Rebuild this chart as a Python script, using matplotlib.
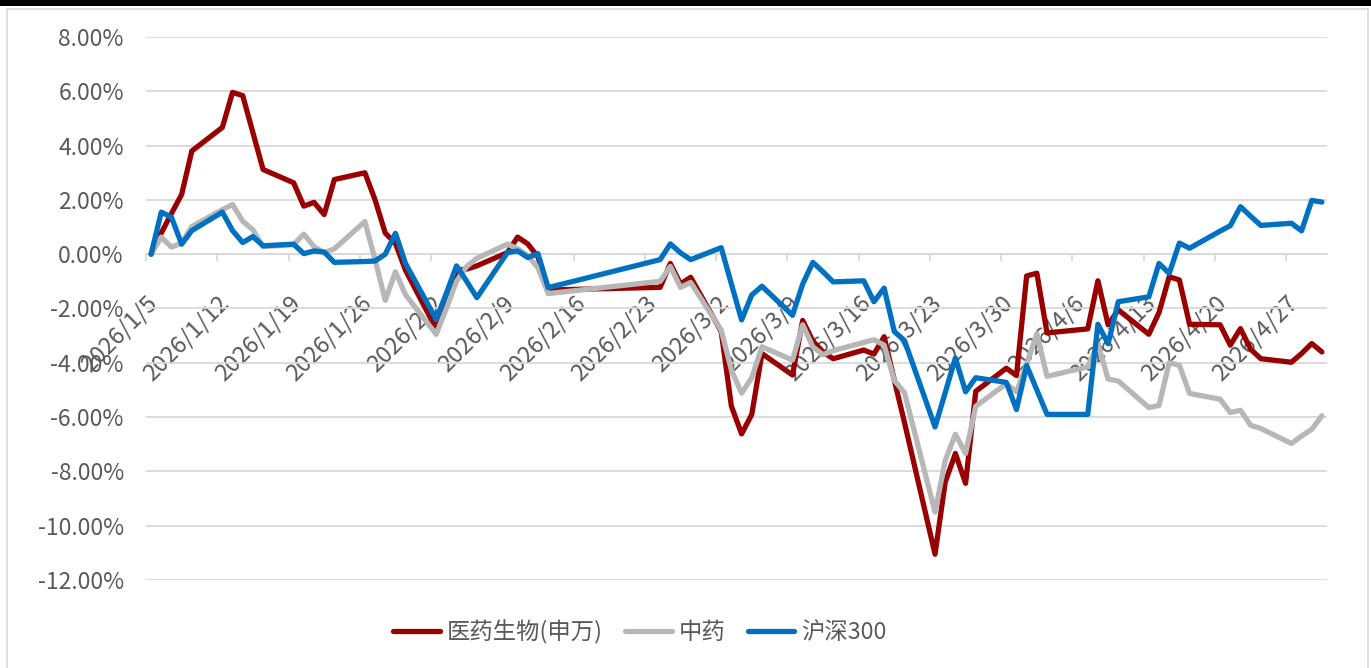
import matplotlib
matplotlib.use('Agg')
import matplotlib.pyplot as plt
import matplotlib.patches as mpatches
import pandas as pd
from matplotlib.ticker import FuncFormatter, MultipleLocator

plt.rcParams['font.family'] = ['Noto Sans CJK SC', 'DejaVu Sans']

# ---------------- data ----------------
dates = [
    '2026-01-05', '2026-01-06', '2026-01-07', '2026-01-08', '2026-01-09',
    '2026-01-12', '2026-01-13', '2026-01-14', '2026-01-15', '2026-01-16',
    '2026-01-19', '2026-01-20', '2026-01-21', '2026-01-22', '2026-01-23',
    '2026-01-26', '2026-01-27', '2026-01-28', '2026-01-29', '2026-01-30',
    '2026-02-02', '2026-02-03', '2026-02-04', '2026-02-05', '2026-02-06',
    '2026-02-09', '2026-02-10', '2026-02-11', '2026-02-12', '2026-02-13',
    '2026-02-24', '2026-02-25', '2026-02-26', '2026-02-27',
    '2026-03-02', '2026-03-03', '2026-03-04', '2026-03-05', '2026-03-06',
    '2026-03-09', '2026-03-10', '2026-03-11', '2026-03-12', '2026-03-13',
    '2026-03-16', '2026-03-17', '2026-03-18', '2026-03-19', '2026-03-20',
    '2026-03-23', '2026-03-24', '2026-03-25', '2026-03-26', '2026-03-27',
    '2026-03-30', '2026-03-31', '2026-04-01', '2026-04-02', '2026-04-03',
    '2026-04-07', '2026-04-08', '2026-04-09', '2026-04-10',
    '2026-04-13', '2026-04-14', '2026-04-15', '2026-04-16', '2026-04-17',
    '2026-04-20', '2026-04-21', '2026-04-22', '2026-04-23', '2026-04-24',
    '2026-04-27', '2026-04-28', '2026-04-29', '2026-04-30',
]

# 医药生物(申万)
yiyao = [
    0.00, 0.78, 1.50, 2.20, 3.80,
    4.67, 5.96, 5.84, 4.48, 3.12,
    2.63, 1.77, 1.91, 1.46, 2.75,
    3.00, 2.00, 0.78, 0.40, -0.60,
    -2.75, -1.70, -0.60, -0.55, -0.43,
    0.06, 0.63, 0.38, -0.10, -1.32,
    -1.22, -0.34, -1.10, -0.85,
    -2.85, -5.60, -6.62, -5.90, -3.66,
    -4.45, -2.44, -3.20, -3.60, -3.85,
    -3.53, -3.68, -3.04, -4.64, -6.20,
    -11.05, -8.40, -7.34, -8.44, -5.05,
    -4.20, -4.47, -0.80, -0.70, -2.90,
    -2.75, -0.98, -2.60, -2.05,
    -2.95, -2.15, -0.83, -0.95, -2.58,
    -2.60, -3.35, -2.74, -3.50, -3.85,
    -3.98, -3.66, -3.29, -3.60,
]

# 中药
zhongyao = [
    0.00, 0.63, 0.26, 0.41, 1.02,
    1.64, 1.83, 1.21, 0.90, 0.28,
    0.35, 0.74, 0.28, 0.05, 0.20,
    1.20, -0.20, -1.70, -0.65, -1.50,
    -2.95, -2.00, -1.00, -0.45, -0.15,
    0.37, 0.20, -0.05, -0.50, -1.45,
    -1.00, -0.45, -1.22, -1.04,
    -2.80, -4.27, -5.12, -4.55, -3.41,
    -3.90, -2.60, -3.41, -3.70, -3.55,
    -3.25, -3.15, -3.35, -4.65, -5.10,
    -9.50, -7.60, -6.63, -7.34, -5.60,
    -4.77, -5.07, -4.05, -2.93, -4.50,
    -4.15, -3.30, -4.60, -4.67,
    -5.65, -5.57, -4.00, -4.09, -5.13,
    -5.34, -5.83, -5.75, -6.30, -6.42,
    -6.97, -6.70, -6.45, -5.95,
]

# 沪深300
hs300 = [
    0.00, 1.55, 1.36, 0.37, 0.87,
    1.55, 0.87, 0.43, 0.65, 0.31,
    0.37, 0.02, 0.12, 0.08, -0.30,
    -0.27, -0.25, 0.00, 0.77, -0.35,
    -2.40, -1.44, -0.43, -1.00, -1.60,
    0.06, 0.12, -0.12, 0.02, -1.23,
    -0.20, 0.38, 0.05, -0.20,
    0.24, -1.10, -2.42, -1.50, -1.18,
    -2.25, -1.10, -0.30, -0.65, -1.02,
    -0.98, -1.75, -1.25, -2.85, -3.18,
    -6.36, -5.10, -3.82, -5.07, -4.55,
    -4.72, -5.72, -4.10, -5.00, -5.90,
    -5.90, -2.58, -3.30, -1.75,
    -1.57, -0.34, -0.71, 0.41, 0.22,
    0.85, 1.05, 1.75, 1.40, 1.06,
    1.14, 0.86, 1.98, 1.92,
]

series_names = ['医药生物(申万)', '中药', '沪深300']

tick_dates = [
    '2026-01-05', '2026-01-12', '2026-01-19', '2026-01-26', '2026-02-02',
    '2026-02-09', '2026-02-16', '2026-02-23', '2026-03-02', '2026-03-09',
    '2026-03-16', '2026-03-23', '2026-03-30', '2026-04-06', '2026-04-13',
    '2026-04-20', '2026-04-27',
]
tick_labels = [
    '2026/1/5', '2026/1/12', '2026/1/19', '2026/1/26', '2026/2/2',
    '2026/2/9', '2026/2/16', '2026/2/23', '2026/3/2', '2026/3/9',
    '2026/3/16', '2026/3/23', '2026/3/30', '2026/4/6', '2026/4/13',
    '2026/4/20', '2026/4/27',
]

# ---------------- figure ----------------
fig = plt.figure(figsize=(13.71, 6.68), dpi=100)
W, H = 1371, 668

# outer decorations: black bar on top, light frame
fig.add_artist(mpatches.Rectangle((0, 1 - 6 / H), 1, 6 / H, transform=fig.transFigure,
                                  facecolor='black', edgecolor='none'))
fig.add_artist(mpatches.Rectangle((7 / W, -0.01), (1368 - 7) / W, 1 - 9 / H + 0.01,
                                  transform=fig.transFigure, facecolor='none',
                                  edgecolor='#D9D9D9', lw=1.2))

left, right, top, bottom = 146, 1327, 37, 580
ax = fig.add_axes([left / W, 1 - bottom / H, (right - left) / W, (bottom - top) / H])

x = pd.to_datetime(dates) + pd.Timedelta(hours=12)
colors = ['#990000', '#B7B7B7', '#0070C0']
for vals, name, c in zip([yiyao, zhongyao, hs300], series_names, colors):
    ax.plot(x, vals, color=c, lw=3.8, label=name,
            solid_joinstyle='round', solid_capstyle='round')

ax.set_xlim(pd.Timestamp('2026-01-05'), pd.Timestamp('2026-05-01'))
ax.set_ylim(-12, 8)
ax.yaxis.set_major_locator(MultipleLocator(2))
ax.yaxis.set_major_formatter(FuncFormatter(lambda v, p: f'{v:.2f}%'))

ax.grid(axis='y', color='#D9D9D9', lw=1.3)
ax.set_axisbelow(True)
for s in ['left', 'right', 'top']:
    ax.spines[s].set_visible(False)
ax.spines['bottom'].set_position(('data', 0))
ax.spines['bottom'].set_color('#D9D9D9')
ax.spines['bottom'].set_linewidth(1.3)
ax.spines['bottom'].set_zorder(0.5)

ax.tick_params(axis='x', direction='out', length=5, width=1.3, color='#D9D9D9',
               labelsize=17, labelcolor='#595959', pad=22)
ax.tick_params(axis='y', length=0, labelsize=16.5, labelcolor='#595959', pad=16)

ax.set_xticks(pd.to_datetime(tick_dates))
ax.set_xticklabels(tick_labels)
for lab in ax.get_xticklabels():
    lab.set_rotation(45)
    lab.set_ha('right')
    lab.set_va('top')
    lab.set_rotation_mode('anchor')

fig.legend(loc='center', bbox_to_anchor=(640 / W, 1 - 632 / H), ncol=3,
           frameon=False, fontsize=16.8, handlelength=2.0, handletextpad=0.3,
           columnspacing=0.95, labelcolor='#595959')

fig.savefig('out.png', dpi=100)
